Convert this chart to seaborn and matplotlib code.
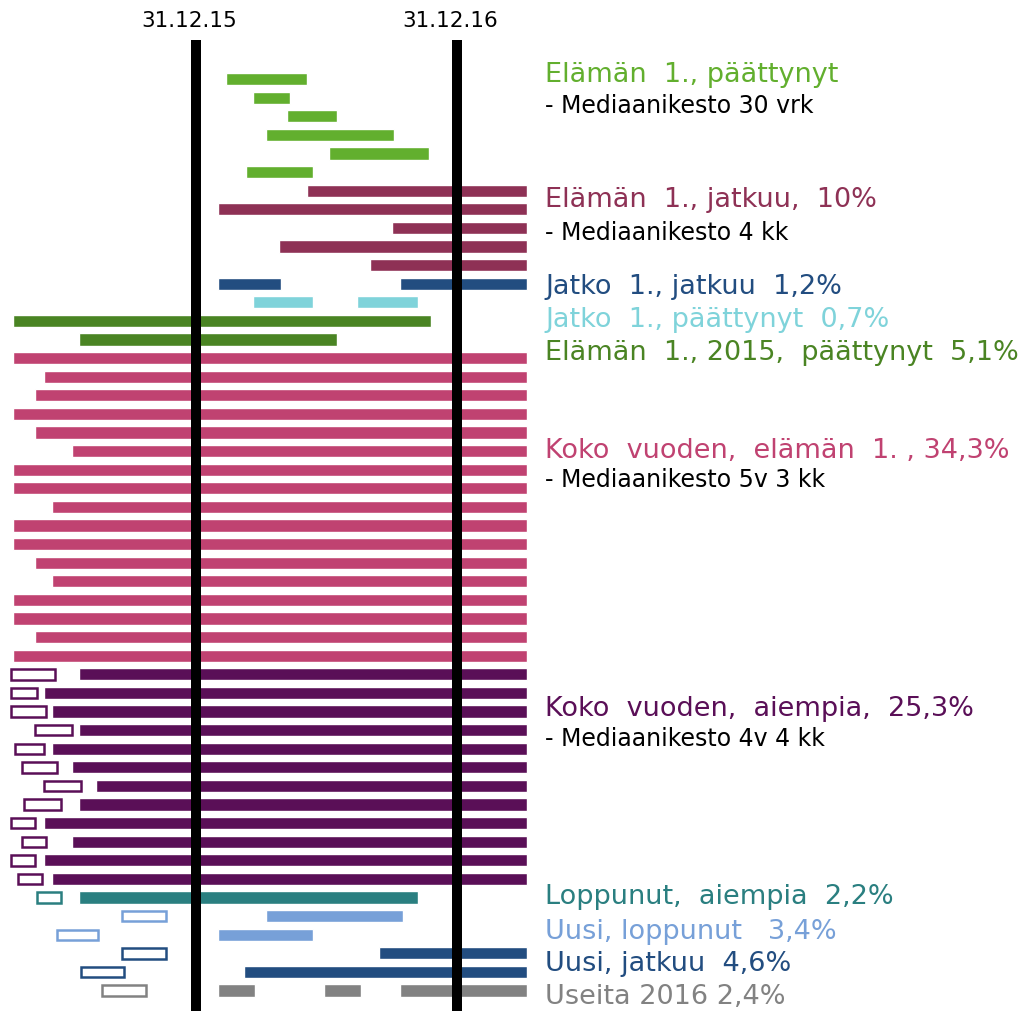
import numpy as np
import pandas as pd
import matplotlib
matplotlib.use("Agg")
import matplotlib.pyplot as plt
import seaborn as sns

sns.set_theme(style="white")
plt.rcParams["font.family"] = ["DejaVu Sans"]

# Time axis: months from 31.12.15, observation window ends at WINDOW_END
WINDOW_END = 15.2
date_labels = ["31.12.15", "31.12.16"]
date_marks = [0, 12]

# Elämän 1., päättynyt
first_ended = [(1.4, 5.1), (2.6, 4.3), (4.2, 6.5), (3.2, 9.1), (6.1, 10.7), (2.3, 5.4)]
# Elämän 1., jatkuu
first_cont_start = [5.1, 1.0, 9.0, 3.8, 8.0]
# Jatko 1., jatkuu / Jatko 1., päättynyt (one row each, two periods)
cont_cont = [(1.0, 3.9), (9.4, WINDOW_END)]
cont_ended = [(2.6, 5.4), (7.4, 10.2)]
# Elämän 1., 2015, päättynyt
first_2015 = [(-8.4, 10.8), (-5.4, 6.5)]
# Koko vuoden, elämän 1.
full_first_start = [-8.4, -7.0, -7.4, -8.4, -7.4, -5.7, -8.4, -8.4, -6.6,
                    -8.4, -8.4, -7.4, -6.6, -8.4, -8.4, -7.4, -8.4]
# Koko vuoden, aiempia (current period start + earlier period)
full_prev_start = [-5.4, -7.0, -6.6, -5.4, -6.6, -5.7, -4.6, -5.4, -7.0, -5.7, -7.0, -6.6]
full_prev_earlier = [(-8.5, -6.5), (-8.5, -7.3), (-8.5, -6.9), (-7.4, -5.7), (-8.3, -7.0),
                     (-8.0, -6.4), (-7.0, -5.3), (-7.9, -6.2), (-8.5, -7.4), (-8.0, -6.9),
                     (-8.5, -7.4), (-8.2, -7.1)]
# Loppunut, aiempia
ended_prev = (-5.4, 10.2)
ended_prev_earlier = (-7.3, -6.2)
# Uusi, loppunut
new_ended = [(3.2, 9.5), (1.0, 5.4)]
new_ended_earlier = [(-3.4, -1.4), (-6.4, -4.5)]
# Uusi, jatkuu
new_cont_start = [8.4, 2.2]
new_cont_earlier = [(-3.4, -1.4), (-5.3, -3.3)]
# Useita 2016
several = [(1.0, 2.7), (5.9, 7.6), (9.4, WINDOW_END)]
several_earlier = (-4.3, -2.3)

colors = {
    "first_ended": "#62AF2E",
    "first_cont": "#8E3155",
    "cont_cont": "#224D80",
    "cont_ended": "#7FD3DA",
    "first_2015": "#4A8423",
    "full_first": "#C04271",
    "full_prev": "#5A0F57",
    "ended_prev": "#2A7F80",
    "new_ended": "#77A0D8",
    "new_cont": "#224D80",
    "several": "#828282",
}

# build one table of segments, one row per person
records = []
row = 0


def add_rows(solid_rows, group, hollow_rows=None):
    global row
    for i, segs in enumerate(solid_rows):
        for s, e in segs:
            records.append(dict(row=row, start=s, end=e, group=group, hollow=False))
        if hollow_rows is not None:
            s, e = hollow_rows[i]
            records.append(dict(row=row, start=s, end=e, group=group, hollow=True))
        row += 1


add_rows([[seg] for seg in first_ended], "first_ended")
add_rows([[(s, WINDOW_END)] for s in first_cont_start], "first_cont")
add_rows([cont_cont], "cont_cont")
add_rows([cont_ended], "cont_ended")
add_rows([[seg] for seg in first_2015], "first_2015")
add_rows([[(s, WINDOW_END)] for s in full_first_start], "full_first")
add_rows([[(s, WINDOW_END)] for s in full_prev_start], "full_prev", full_prev_earlier)
add_rows([[ended_prev]], "ended_prev", [ended_prev_earlier])
add_rows([[seg] for seg in new_ended], "new_ended", new_ended_earlier)
add_rows([[(s, WINDOW_END)] for s in new_cont_start], "new_cont", new_cont_earlier)
add_rows([several], "several", [several_earlier])

df = pd.DataFrame(records)
df["width"] = df["end"] - df["start"]

# Labels on the right: text, colour key, row position
labels = [
    ("Elämän  1., päättynyt", "first_ended", -0.2, 19.5),
    ("- Mediaanikesto 30 vrk", None, 1.45, 17),
    ("Elämän  1., jatkuu,  10%", "first_cont", 6.5, 19.5),
    ("- Mediaanikesto 4 kk", None, 8.25, 17),
    ("Jatko  1., jatkuu  1,2%", "cont_cont", 11.2, 19.5),
    ("Jatko  1., päättynyt  0,7%", "cont_ended", 12.95, 19.5),
    ("Elämän  1., 2015,  päättynyt  5,1%", "first_2015", 14.7, 19.5),
    ("Koko  vuoden,  elämän  1. , 34,3%", "full_first", 20.0, 19.5),
    ("- Mediaanikesto 5v 3 kk", None, 21.55, 17),
    ("Koko  vuoden,  aiempia,  25,3%", "full_prev", 33.85, 19.5),
    ("- Mediaanikesto 4v 4 kk", None, 35.5, 17),
    ("Loppunut,  aiempia  2,2%", "ended_prev", 43.95, 19.5),
    ("Uusi, loppunut   3,4%", "new_ended", 45.85, 19.5),
    ("Uusi, jatkuu  4,6%", "new_cont", 47.6, 19.5),
    ("Useita 2016 2,4%", "several", 49.35, 19.5),
]

fig = plt.figure(figsize=(10.21, 10.11), dpi=100)
ax = fig.add_axes([0, 0, 1, 1])
ax.axis("off")

solid = df[~df["hollow"]]
ax.barh(solid["row"], solid["width"], left=solid["start"], height=0.66,
        color=solid["group"].map(colors), zorder=2)
hollow = df[df["hollow"]]
ax.barh(hollow["row"], hollow["width"], left=hollow["start"], height=0.56,
        color="white", edgecolor=hollow["group"].map(colors), linewidth=1.8, zorder=2)

ax.vlines(date_marks, -2.1, 51, color="black", linewidth=7.2, zorder=3)
for m, lab in zip(date_marks, date_labels):
    ax.text(m - 0.3, -3.1, lab, ha="center", va="center", fontsize=15.5, color="black")

for text, key, y, size in labels:
    ax.text(16.05, y, text, ha="left", va="center", fontsize=size,
            color=colors[key] if key else "black")

ax.set_xlim(-9.01, 37.93)
ax.set_ylim(50.1, -4.25)

fig.savefig("out.png", dpi=100)
